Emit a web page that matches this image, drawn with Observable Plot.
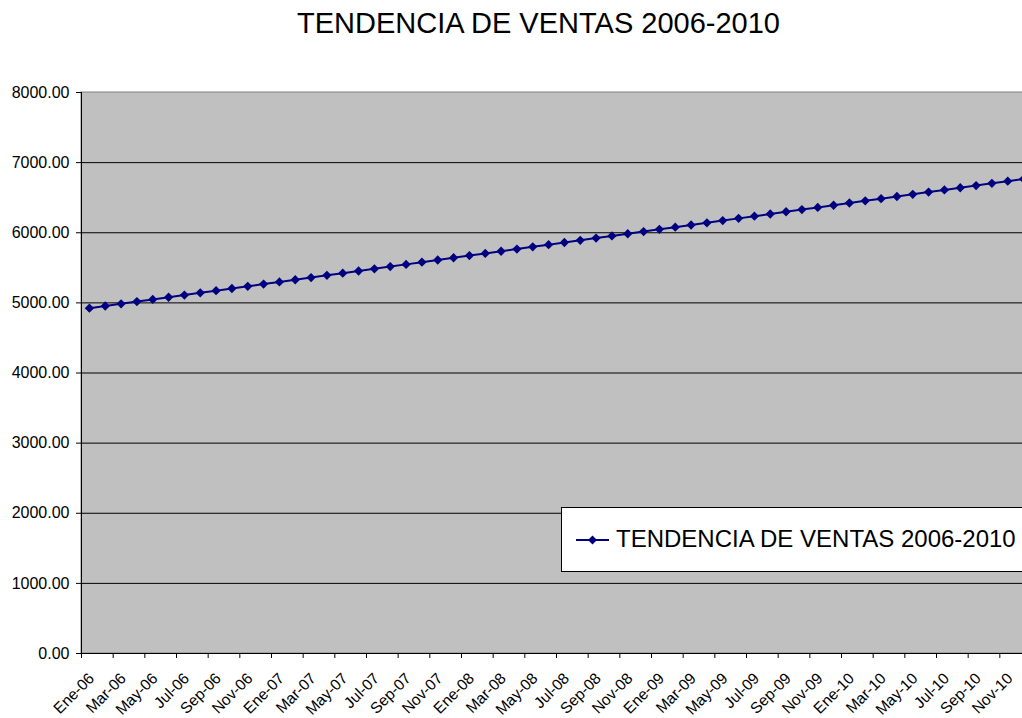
<!DOCTYPE html>
<html>
<head>
<meta charset="utf-8">
<script src="https://cdn.jsdelivr.net/npm/d3@7"></script>
<script src="https://cdn.jsdelivr.net/npm/@observablehq/plot@0.6"></script>
<style>
  html, body { margin: 0; padding: 0; background: white; overflow: hidden; }
  #wrap { position: relative; width: 1022px; height: 718px; overflow: hidden; font-family: "Liberation Sans", Arial, sans-serif; }
  #title { box-sizing: border-box; width: 1022px; height: 56px; padding-top: 8.5px; padding-left: 55px; text-align: center; font-size: 29px; line-height: 29px; color: black; white-space: nowrap; }
  #legend { position: absolute; left: 561px; top: 507px; width: 480px; height: 63px; background: white; border: 1px solid black; }
  #legend svg { position: absolute; left: 13px; top: 24px; }
  #legend span { position: absolute; left: 54px; top: 19px; font-size: 24px; line-height: 24px; white-space: nowrap; color: black; }
</style>
</head>
<body>
<div id="wrap">
  <div id="title">TENDENCIA DE VENTAS 2006-2010</div>
  <div id="chart"></div>
  <div id="legend">
    <svg width="36" height="16"><line x1="1" y1="8" x2="34" y2="8" stroke="#000080" stroke-width="2"/><path d="M17.5,3.5 L22,8 L17.5,12.5 L13,8 Z" fill="#000080"/></svg>
    <span>TENDENCIA DE VENTAS 2006-2010</span>
  </div>
</div>
<script>
// Categories
const meses = ["Ene", "Feb", "Mar", "Abr", "May", "Jun", "Jul", "Ago", "Sep", "Oct", "Nov", "Dic"];
const anios = ["06", "07", "08", "09", "10"];
const categorias = anios.flatMap(a => meses.map(m => `${m}-${a}`));

// Series values
const ventas = [
  4924, 4955, 4986, 5018, 5049, 5080, 5111, 5143, 5174, 5205, 5236, 5268,
  5299, 5330, 5361, 5393, 5424, 5455, 5486, 5518, 5549, 5580, 5611, 5643,
  5674, 5705, 5736, 5767, 5799, 5830, 5861, 5892, 5924, 5955, 5986, 6017,
  6049, 6080, 6111, 6142, 6174, 6205, 6236, 6267, 6299, 6330, 6361, 6392,
  6424, 6455, 6486, 6517, 6548, 6580, 6611, 6642, 6673, 6705, 6736, 6767
];

// Axis tick values
const yTicks = [0, 1000, 2000, 3000, 4000, 5000, 6000, 7000, 8000];
const yDom = [0, 8000];

const data = categorias.map((c, i) => ({i, cat: c, v: ventas[i]}));
const xDom = [0, categorias.length];
const boundaries = d3.range(0, categorias.length, 2);
const labelIdx = d3.range(0, categorias.length, 2);

const chart = Plot.plot({
  width: 1022,
  height: 662,
  marginLeft: 81,
  marginRight: 0,
  marginTop: 36,
  marginBottom: 65,
  style: {fontFamily: "'Liberation Sans', Arial, sans-serif", fontSize: "16px", color: "black", background: "white", overflow: "hidden"},
  x: {type: "linear", domain: xDom, range: [81, 1031]},
  y: {type: "linear", domain: yDom},
  marks: [
    Plot.rect([null], {x1: () => xDom[0], x2: () => xDom[1], y1: () => yDom[0], y2: () => yDom[1], fill: "#C0C0C0", stroke: "#808080"}),
    Plot.ruleY(yTicks.filter(t => t > 0 && t < 8000), {stroke: "black", strokeWidth: 1}),
    Plot.ruleX([0], {stroke: "black"}),
    Plot.ruleY([0], {stroke: "black"}),
    Plot.axisY({ticks: yTicks, tickSize: 5, tickPadding: 7, tickFormat: d => d.toFixed(2), label: null, fontSize: 16}),
    Plot.axisX({ticks: boundaries, tickSize: 5, tickFormat: () => "", label: null}),
    Plot.text(labelIdx, {x: i => i + 0.5, y: () => 0, text: i => categorias[i], rotate: -45, textAnchor: "end", lineAnchor: "top", dx: -2, dy: 18, fontSize: 15.5, fill: "black"}),
    Plot.line(data, {x: d => d.i + 0.5, y: "v", stroke: "#000080", strokeWidth: 2}),
    Plot.dot(data, {x: d => d.i + 0.5, y: "v", symbol: "diamond2", r: 4.2, fill: "#000080", stroke: "none"})
  ]
});
document.getElementById("chart").appendChild(chart);
</script>
</body>
</html>
